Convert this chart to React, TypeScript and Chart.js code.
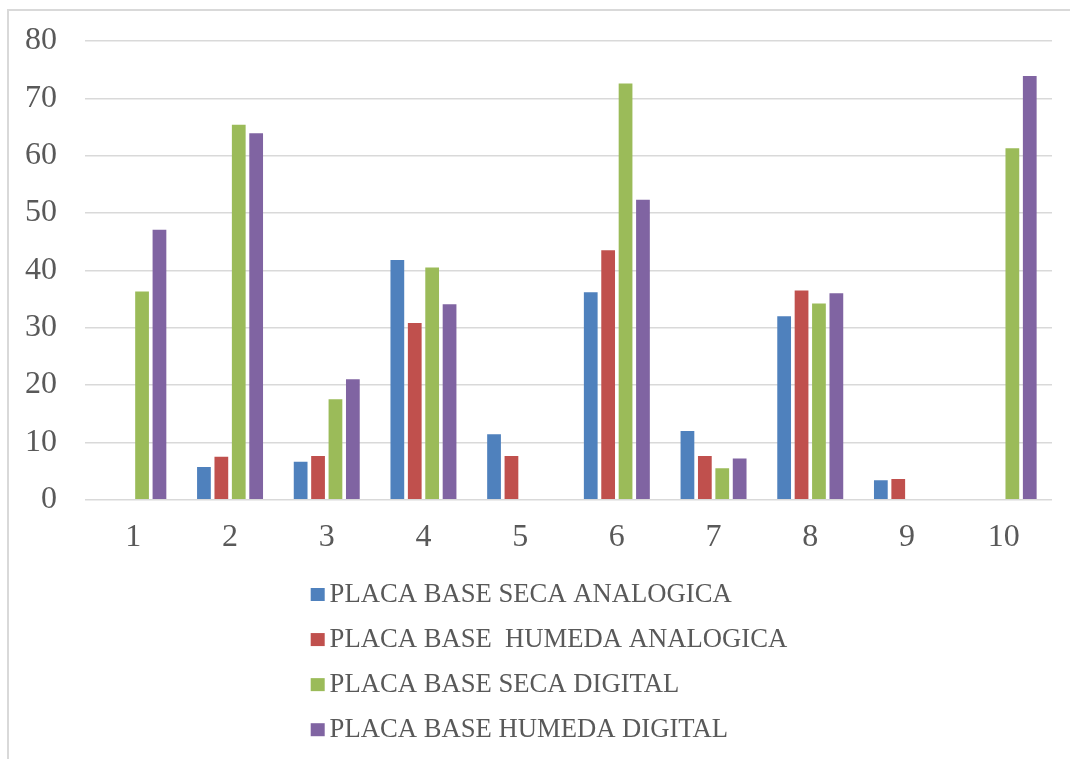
import React, { useEffect, useRef } from "react";
import { Chart, registerables } from "chart.js";

Chart.register(...registerables);

// Category labels along the x axis
const categories = ["1", "2", "3", "4", "5", "6", "7", "8", "9", "10"];

// Series values (null = no bar for that category)
const secaAnalogica = [null, 5.7, 6.6, 41.8, 11.4, 36.2, 12.0, 32.0, 3.4, null];
const humedaAnalogica = [null, 7.5, 7.6, 30.8, 7.6, 43.5, 7.6, 36.5, 3.6, null];
const secaDigital = [36.3, 65.4, 17.5, 40.5, null, 72.6, 5.5, 34.2, null, 61.3];
const humedaDigital = [47.1, 63.9, 21.0, 34.1, null, 52.3, 7.2, 36.0, null, 73.9];

const seriesNames = [
  "PLACA BASE SECA ANALOGICA",
  "PLACA BASE  HUMEDA ANALOGICA",
  "PLACA BASE SECA DIGITAL",
  "PLACA BASE HUMEDA DIGITAL",
];
const seriesColors = ["#4F81BD", "#C0504D", "#9BBB59", "#8064A2"];

// Value axis range
const yMin = 0;
const yMax = 80;
const yStep = 10;

const FONT_FAMILY = '"Liberation Serif", "Times New Roman", serif';
const TEXT_COLOR = "#595959";
const GRID_COLOR = "#D9D9D9";

// Legend drawn as a single vertical list under the plot
const verticalLegend = {
  id: "verticalLegend",
  afterDraw(chart: any) {
    const { ctx, chartArea } = chart;
    const boxX = chartArea.left + 225.7;
    const textX = chartArea.left + 244.6;
    const firstRow = chartArea.bottom + 94.8;
    const rowGap = 45.07;
    ctx.save();
    ctx.font = `26.67px ${FONT_FAMILY}`;
    ctx.textAlign = "left";
    ctx.textBaseline = "middle";
    chart.data.datasets.forEach((ds: any, i: number) => {
      const cy = firstRow + i * rowGap;
      ctx.fillStyle = ds.backgroundColor;
      ctx.fillRect(boxX, cy - 6.5, 14, 13);
      ctx.fillStyle = TEXT_COLOR;
      ctx.fillText(ds.label, textX, cy);
    });
    ctx.restore();
  },
};

export default function App() {
  const canvasRef = useRef<HTMLCanvasElement | null>(null);

  useEffect(() => {
    if (!canvasRef.current) return;
    const values = [secaAnalogica, humedaAnalogica, secaDigital, humedaDigital];
    const chart = new Chart(canvasRef.current, {
      type: "bar",
      data: {
        labels: categories,
        datasets: values.map((data, i) => ({
          label: seriesNames[i],
          data,
          backgroundColor: seriesColors[i],
          borderWidth: 0,
          categoryPercentage: 0.72,
          barPercentage: 0.79,
        })),
      },
      options: {
        responsive: false,
        animation: false,
        layout: { padding: { top: 30, right: 18, bottom: 199.3, left: 0 } },
        plugins: {
          legend: { display: false },
          tooltip: { enabled: false },
          title: { display: false },
        },
        scales: {
          x: {
            grid: { display: false, drawTicks: false },
            border: { display: false },
            ticks: {
              padding: 19,
              color: TEXT_COLOR,
              font: { family: FONT_FAMILY, size: 32 },
              maxRotation: 0,
            },
            afterFit: (scale: any) => {
              scale.height = 60;
            },
          },
          y: {
            min: yMin,
            max: yMax,
            grid: { color: GRID_COLOR, lineWidth: 1.5, drawTicks: false },
            border: { display: false },
            ticks: {
              stepSize: yStep,
              padding: 28,
              color: TEXT_COLOR,
              font: { family: FONT_FAMILY, size: 32 },
            },
            afterFit: (scale: any) => {
              scale.width = 76;
              scale.paddingTop = 0;
              scale.paddingBottom = 0;
            },
          },
        },
      },
      plugins: [verticalLegend],
    });
    return () => chart.destroy();
  }, []);

  return (
    <div
      style={{
        position: "fixed",
        left: 7,
        top: 9,
        width: 1061,
        height: 748,
        borderTop: `2px solid ${GRID_COLOR}`,
        borderLeft: `2px solid ${GRID_COLOR}`,
        background: "#fff",
      }}
    >
      <canvas ref={canvasRef} width={1061} height={748} style={{ display: "block" }} />
    </div>
  );
}
